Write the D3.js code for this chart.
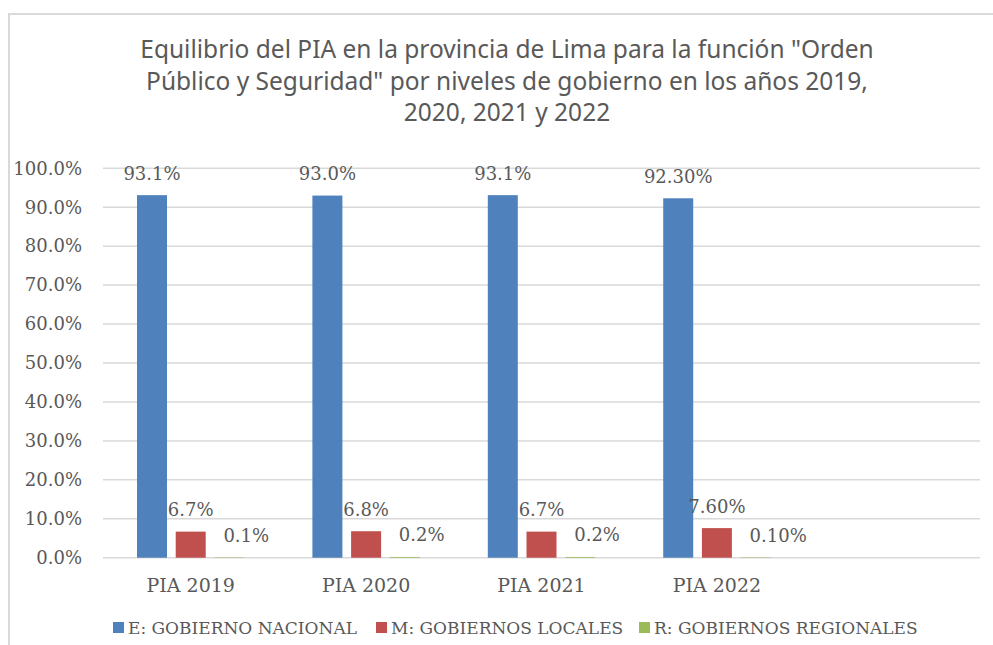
<!DOCTYPE html>
<html>
<head>
<meta charset="utf-8">
<script src="https://cdn.jsdelivr.net/npm/d3@7"></script>
<style>
  body { margin: 0; background: #fff; }
  svg { display: block; }
</style>
</head>
<body>
<div id="chart"></div>
<script>

// data
var categories = ["PIA 2019", "PIA 2020", "PIA 2021", "PIA 2022", ""];
var seriesNames = ["E: GOBIERNO NACIONAL", "M: GOBIERNOS LOCALES", "R: GOBIERNOS REGIONALES"];
var nacional = [0.931, 0.930, 0.931, 0.923];
var locales = [0.067, 0.068, 0.067, 0.076];
var regionales = [0.001, 0.002, 0.002, 0.001];
var labelDecimals = [1, 1, 1, 2]; // 2022 labels show two decimals
var yTicks = [0, 0.1, 0.2, 0.3, 0.4, 0.5, 0.6, 0.7, 0.8, 0.9, 1.0];
var titleLines = [
  "Equilibrio del PIA en la provincia de Lima para la función \"Orden",
  "Público y Seguridad\" por niveles de gobierno en los años 2019,",
  "2020, 2021 y 2022"
];

var colors = ["#4f81bd", "#c0504d", "#9bbb59"];
var textColor = "#595959";
var gridColor = "#d9d9d9";
var serif = "'DejaVu Serif', serif";

var width = 993, height = 645;
var margin = {top: 168.3, right: 13, bottom: 87.3, left: 103};

var svg = d3.select("#chart").append("svg")
  .attr("width", width)
  .attr("height", height);

// chart border (only top and left edges are inside the picture)
svg.append("rect")
  .attr("x", 9).attr("y", 14)
  .attr("width", 1000).attr("height", 700)
  .style("fill", "none")
  .style("stroke", gridColor)
  .style("stroke-width", 2);

// title
svg.append("text")
  .attr("x", 507)
  .attr("y", 58)
  .style("font-family", "'Noto Sans', sans-serif")
  .style("font-size", "24.5px")
  .style("fill", textColor)
  .attr("text-anchor", "middle")
  .selectAll("tspan")
  .data(titleLines)
  .enter().append("tspan")
  .attr("x", 507)
  .attr("dy", function(d, i) { return i == 0 ? 0 : 31.7; })
  .text(function(d) { return d; });

var x0 = d3.scaleBand()
  .domain(categories)
  .range([margin.left, width - margin.right]);

var groupW = 116.1;
var x1 = d3.scaleBand()
  .domain([0, 1, 2])
  .range([0, groupW])
  .paddingInner(0.225)
  .paddingOuter(0.1125);

var y = d3.scaleLinear()
  .domain([0, 1])
  .range([height - margin.bottom, margin.top]);

// gridlines
svg.append("g").selectAll("line")
  .data(yTicks)
  .enter().append("line")
  .attr("x1", margin.left)
  .attr("x2", width - margin.right)
  .attr("y1", function(d) { return y(d); })
  .attr("y2", function(d) { return y(d); })
  .style("stroke", gridColor)
  .style("stroke-width", 1.5);

// y axis labels
var yAxis = svg.append("g")
  .attr("transform", "translate(" + (margin.left - 21) + ",0)")
  .call(d3.axisLeft(y).tickValues(yTicks).tickFormat(d3.format(".1%")).tickSize(0).tickPadding(0));
yAxis.select(".domain").remove();
yAxis.selectAll("text")
  .style("font-family", serif)
  .style("font-size", "18px")
  .style("fill", textColor);

// x axis labels
var xAxis = svg.append("g")
  .attr("transform", "translate(0," + y(0) + ")")
  .call(d3.axisBottom(x0).tickSize(0).tickPadding(0));
xAxis.select(".domain").remove();
xAxis.selectAll("text")
  .attr("dy", 0)
  .attr("y", 34)
  .style("font-family", serif)
  .style("font-size", "19px")
  .style("fill", textColor);

var series = [nacional, locales, regionales];

var rows = [];
series.forEach(function(vals, s) {
  vals.forEach(function(v, i) {
    rows.push({s: s, cat: categories[i], value: v, dec: labelDecimals[i]});
  });
});

function barX(d) {
  return x0(d.cat) + (x0.bandwidth() - groupW) / 2 + x1(d.s);
}

svg.append("g").selectAll("rect")
  .data(rows)
  .enter().append("rect")
  .attr("x", barX)
  .attr("y", function(d) { return y(d.value); })
  .attr("width", x1.bandwidth())
  .attr("height", function(d) { return y(0) - y(d.value); })
  .style("fill", function(d) { return colors[d.s]; });

// data labels
svg.append("g").selectAll("text")
  .data(rows)
  .enter().append("text")
  .attr("x", function(d) {
    // regional labels sit to the right of their tiny bars
    return d.s == 2 ? barX(d) + 9 : barX(d) + x1.bandwidth() / 2;
  })
  .attr("y", function(d) { return y(d.value) - 15.5; })
  .attr("text-anchor", function(d) { return d.s == 2 ? "start" : "middle"; })
  .style("font-family", serif)
  .style("font-size", "18px")
  .style("fill", textColor)
  .text(function(d) { return (d.value * 100).toFixed(d.dec) + "%"; });

// legend
var legendX = [113, 376, 639];
var legend = svg.append("g").selectAll("g")
  .data(seriesNames)
  .enter().append("g")
  .attr("transform", function(d, i) { return "translate(" + legendX[i] + ",622)"; });

legend.append("rect")
  .attr("width", 11)
  .attr("height", 11)
  .style("fill", function(d, i) { return colors[i]; });

legend.append("text")
  .attr("x", 15)
  .attr("y", 12)
  .style("font-family", serif)
  .style("font-size", "17px")
  .style("fill", textColor)
  .text(function(d) { return d; });

</script>
</body>
</html>
